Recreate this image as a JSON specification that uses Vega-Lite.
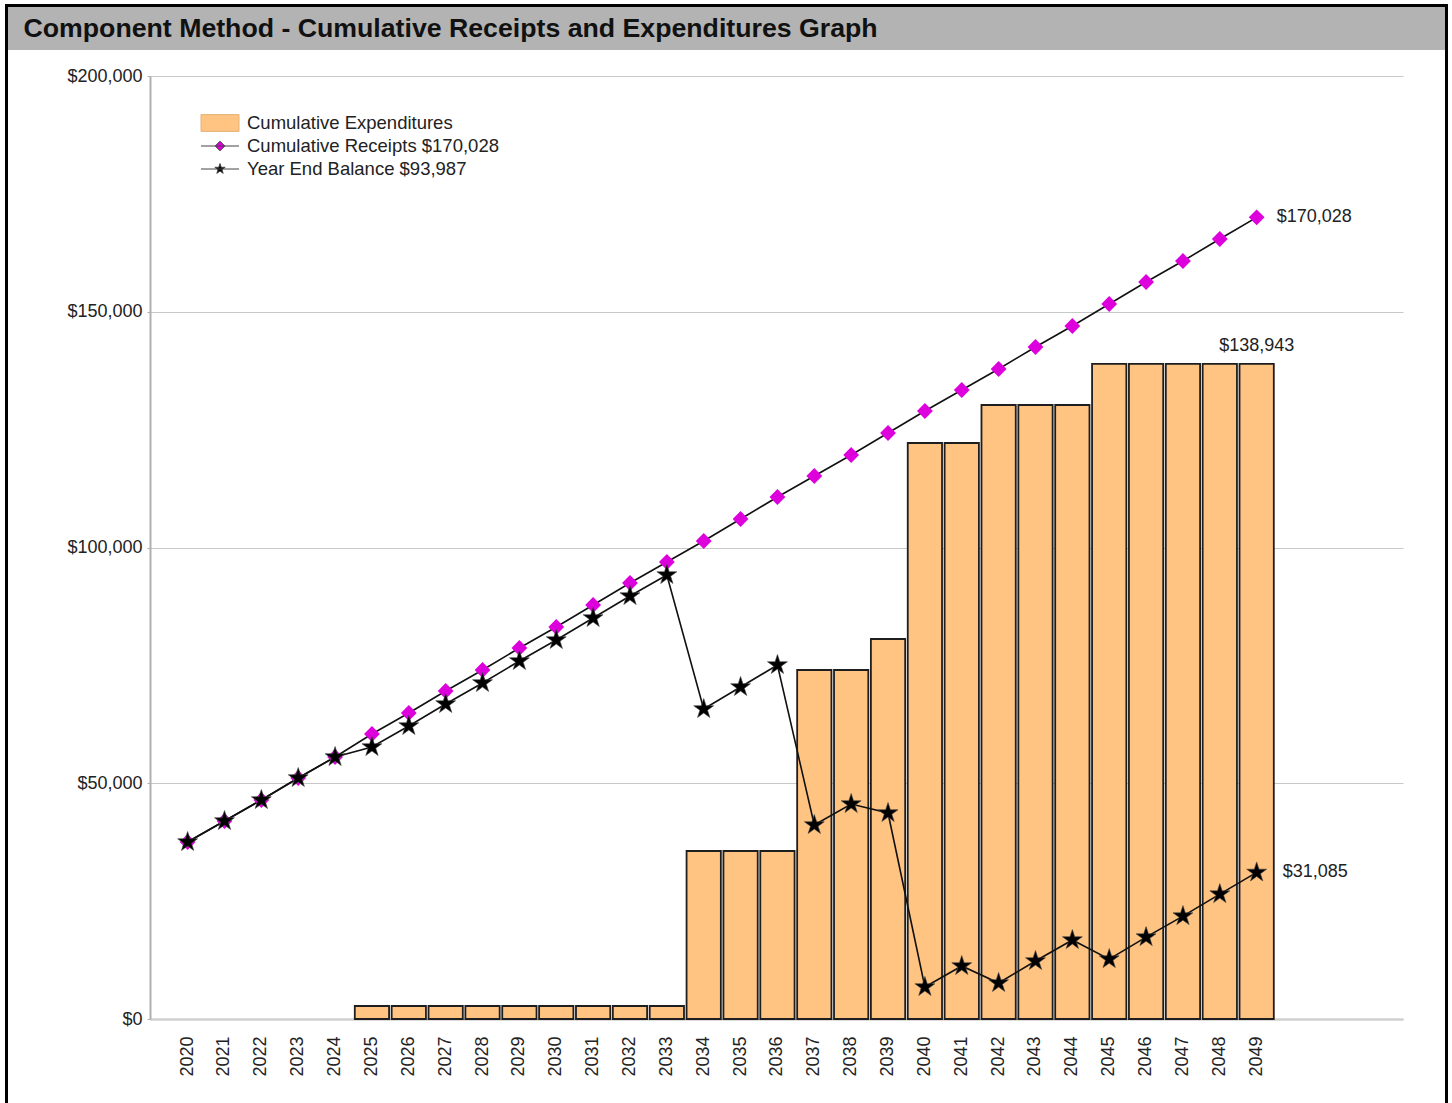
{
  "$schema": "https://vega.github.io/schema/vega-lite/v6.json",
  "padding": {"left": 5, "top": 4, "right": 0, "bottom": 0},
  "background": "white",
  "datasets": {
    "d": [
      {"year": 2020, "series": "Cumulative Receipts $170,028", "value": 37540},
      {"year": 2021, "series": "Cumulative Receipts $170,028", "value": 41994},
      {"year": 2022, "series": "Cumulative Receipts $170,028", "value": 46448},
      {"year": 2023, "series": "Cumulative Receipts $170,028", "value": 51114},
      {"year": 2024, "series": "Cumulative Receipts $170,028", "value": 55568},
      {"year": 2025, "series": "Cumulative Receipts $170,028", "value": 60446},
      {"year": 2026, "series": "Cumulative Receipts $170,028", "value": 64900},
      {"year": 2027, "series": "Cumulative Receipts $170,028", "value": 69566},
      {"year": 2028, "series": "Cumulative Receipts $170,028", "value": 74020},
      {"year": 2029, "series": "Cumulative Receipts $170,028", "value": 78686},
      {"year": 2030, "series": "Cumulative Receipts $170,028", "value": 83140},
      {"year": 2031, "series": "Cumulative Receipts $170,028", "value": 87805},
      {"year": 2032, "series": "Cumulative Receipts $170,028", "value": 92471},
      {"year": 2033, "series": "Cumulative Receipts $170,028", "value": 96925},
      {"year": 2034, "series": "Cumulative Receipts $170,028", "value": 101379},
      {"year": 2035, "series": "Cumulative Receipts $170,028", "value": 106045},
      {"year": 2036, "series": "Cumulative Receipts $170,028", "value": 110711},
      {"year": 2037, "series": "Cumulative Receipts $170,028", "value": 115165},
      {"year": 2038, "series": "Cumulative Receipts $170,028", "value": 119619},
      {"year": 2039, "series": "Cumulative Receipts $170,028", "value": 124285},
      {"year": 2040, "series": "Cumulative Receipts $170,028", "value": 128951},
      {"year": 2041, "series": "Cumulative Receipts $170,028", "value": 133405},
      {"year": 2042, "series": "Cumulative Receipts $170,028", "value": 137859},
      {"year": 2043, "series": "Cumulative Receipts $170,028", "value": 142524},
      {"year": 2044, "series": "Cumulative Receipts $170,028", "value": 146978},
      {"year": 2045, "series": "Cumulative Receipts $170,028", "value": 151644},
      {"year": 2046, "series": "Cumulative Receipts $170,028", "value": 156310},
      {"year": 2047, "series": "Cumulative Receipts $170,028", "value": 160764},
      {"year": 2048, "series": "Cumulative Receipts $170,028", "value": 165430},
      {"year": 2049, "series": "Cumulative Receipts $170,028", "value": 170028},
      {"year": 2025, "series": "Cumulative Expenditures", "value": 2757},
      {"year": 2026, "series": "Cumulative Expenditures", "value": 2757},
      {"year": 2027, "series": "Cumulative Expenditures", "value": 2757},
      {"year": 2028, "series": "Cumulative Expenditures", "value": 2757},
      {"year": 2029, "series": "Cumulative Expenditures", "value": 2757},
      {"year": 2030, "series": "Cumulative Expenditures", "value": 2757},
      {"year": 2031, "series": "Cumulative Expenditures", "value": 2757},
      {"year": 2032, "series": "Cumulative Expenditures", "value": 2757},
      {"year": 2033, "series": "Cumulative Expenditures", "value": 2757},
      {"year": 2034, "series": "Cumulative Expenditures", "value": 35631},
      {"year": 2035, "series": "Cumulative Expenditures", "value": 35631},
      {"year": 2036, "series": "Cumulative Expenditures", "value": 35631},
      {"year": 2037, "series": "Cumulative Expenditures", "value": 74020},
      {"year": 2038, "series": "Cumulative Expenditures", "value": 74020},
      {"year": 2039, "series": "Cumulative Expenditures", "value": 80594},
      {"year": 2040, "series": "Cumulative Expenditures", "value": 122164},
      {"year": 2041, "series": "Cumulative Expenditures", "value": 122164},
      {"year": 2042, "series": "Cumulative Expenditures", "value": 130223},
      {"year": 2043, "series": "Cumulative Expenditures", "value": 130223},
      {"year": 2044, "series": "Cumulative Expenditures", "value": 130223},
      {"year": 2045, "series": "Cumulative Expenditures", "value": 138943},
      {"year": 2046, "series": "Cumulative Expenditures", "value": 138943},
      {"year": 2047, "series": "Cumulative Expenditures", "value": 138943},
      {"year": 2048, "series": "Cumulative Expenditures", "value": 138943},
      {"year": 2049, "series": "Cumulative Expenditures", "value": 138943},
      {"year": 2020, "series": "Year End Balance $93,987", "value": 37540},
      {"year": 2021, "series": "Year End Balance $93,987", "value": 41994},
      {"year": 2022, "series": "Year End Balance $93,987", "value": 46448},
      {"year": 2023, "series": "Year End Balance $93,987", "value": 51114},
      {"year": 2024, "series": "Year End Balance $93,987", "value": 55568},
      {"year": 2025, "series": "Year End Balance $93,987", "value": 57689},
      {"year": 2026, "series": "Year End Balance $93,987", "value": 62143},
      {"year": 2027, "series": "Year End Balance $93,987", "value": 66809},
      {"year": 2028, "series": "Year End Balance $93,987", "value": 71263},
      {"year": 2029, "series": "Year End Balance $93,987", "value": 75929},
      {"year": 2030, "series": "Year End Balance $93,987", "value": 80383},
      {"year": 2031, "series": "Year End Balance $93,987", "value": 85048},
      {"year": 2032, "series": "Year End Balance $93,987", "value": 89714},
      {"year": 2033, "series": "Year End Balance $93,987", "value": 94168},
      {"year": 2034, "series": "Year End Balance $93,987", "value": 65748},
      {"year": 2035, "series": "Year End Balance $93,987", "value": 70414},
      {"year": 2036, "series": "Year End Balance $93,987", "value": 75080},
      {"year": 2037, "series": "Year End Balance $93,987", "value": 41145},
      {"year": 2038, "series": "Year End Balance $93,987", "value": 45599},
      {"year": 2039, "series": "Year End Balance $93,987", "value": 43691},
      {"year": 2040, "series": "Year End Balance $93,987", "value": 6787},
      {"year": 2041, "series": "Year End Balance $93,987", "value": 11241},
      {"year": 2042, "series": "Year End Balance $93,987", "value": 7636},
      {"year": 2043, "series": "Year End Balance $93,987", "value": 12301},
      {"year": 2044, "series": "Year End Balance $93,987", "value": 16755},
      {"year": 2045, "series": "Year End Balance $93,987", "value": 12701},
      {"year": 2046, "series": "Year End Balance $93,987", "value": 17367},
      {"year": 2047, "series": "Year End Balance $93,987", "value": 21821},
      {"year": 2048, "series": "Year End Balance $93,987", "value": 26487},
      {"year": 2049, "series": "Year End Balance $93,987", "value": 31085}
    ]
  },
  "spacing": 0,
  "resolve": {"scale": {"fill": "independent", "stroke": "independent", "shape": "independent"}, "legend": {"fill": "independent", "stroke": "independent", "shape": "independent"}},
  "hconcat": [
    {
      "width": 3, "height": 1100,
      "data": {"values": [{}]},
      "mark": {"type": "point", "opacity": 0, "size": 0, "strokeWidth": 0},
      "encoding": {},
      "view": {"fill": "#000000", "stroke": null}
    },
    {
      "spacing": 0,
      "resolve": {"scale": {"fill": "independent", "stroke": "independent", "shape": "independent"}, "legend": {"fill": "independent", "stroke": "independent", "shape": "independent"}},
      "vconcat": [
        {
          "width": 1437, "height": 3,
          "data": {"values": [{}]},
          "mark": {"type": "point", "opacity": 0, "size": 0, "strokeWidth": 0},
          "encoding": {},
          "view": {"fill": "#000000", "stroke": null}
        },
        {
          "spacing": 17,
          "resolve": {"scale": {"fill": "independent", "stroke": "independent", "shape": "independent"}, "legend": {"fill": "independent", "stroke": "independent", "shape": "independent"}},
          "vconcat": [
            {
              "width": 1437, "height": 43,
              "data": {"values": [{"a": 0}]},
              "mark": {"type": "point", "opacity": 0, "size": 0, "strokeWidth": 0},
              "encoding": {
                "x": {
                  "field": "a", "type": "quantitative",
                  "axis": {
                    "orient": "top", "domain": false, "ticks": false, "labels": false, "grid": false,
                    "minExtent": 0, "maxExtent": 0, "offset": 0,
                    "title": "Component Method - Cumulative Receipts and Expenditures Graph",
                    "titleX": 15, "titleY": 29, "titleAlign": "left", "titleAnchor": "start", "titleBaseline": "alphabetic",
                    "titleFont": "Liberation Sans", "titleFontSize": 26.7, "titleFontWeight": "bold", "titleColor": "#111111"
                  }
                }
              },
              "view": {"fill": "#b3b3b3", "stroke": null}
            },
            {
              "spacing": 0,
              "resolve": {"scale": {"fill": "independent", "stroke": "independent", "shape": "independent"}, "legend": {"fill": "independent", "stroke": "independent", "shape": "independent"}},
              "hconcat": [
                {
                  "width": 1, "height": 20,
                  "data": {"values": [{}]},
                  "mark": {"type": "point", "opacity": 0, "size": 0, "strokeWidth": 0},
                  "encoding": {},
                  "view": {"stroke": null}
                },
                {
                  "width": 1253, "height": 943,
                  "data": {"name": "d"},
                  "view": {"stroke": null},
                  "encoding": {
                    "x": {
                      "field": "year", "type": "ordinal",
                      "scale": {
                        "type": "band",
                        "domain": [2020, 2021, 2022, 2023, 2024, 2025, 2026, 2027, 2028, 2029, 2030, 2031, 2032, 2033, 2034, 2035, 2036, 2037, 2038, 2039, 2040, 2041, 2042, 2043, 2044, 2045, 2046, 2047, 2048, 2049, 2050, 2051, 2052],
                        "paddingInner": 0.07, "paddingOuter": 0.53, "align": 0.524
                      },
                      "axis": {
                        "title": null, "values": [2020, 2021, 2022, 2023, 2024, 2025, 2026, 2027, 2028, 2029, 2030, 2031, 2032, 2033, 2034, 2035, 2036, 2037, 2038, 2039, 2040, 2041, 2042, 2043, 2044, 2045, 2046, 2047, 2048, 2049],
                        "labelAngle": 270, "labelAlign": "right", "labelBaseline": "middle",
                        "ticks": false, "labelPadding": 17, "grid": false,
                        "domainColor": "#d0d0d0", "domainWidth": 2.5,
                        "labelFont": "Liberation Sans", "labelFontSize": 18, "labelColor": "#222222"
                      }
                    },
                    "y": {
                      "field": "value", "type": "quantitative",
                      "scale": {"domain": [0, 200000], "nice": false, "zero": true},
                      "axis": {
                        "title": null, "values": [0, 50000, 100000, 150000, 200000], "format": "$,.0f",
                        "grid": true, "gridColor": "#c8c8c8", "gridWidth": 1,
                        "domainColor": "#b0b0b0", "domainWidth": 2,
                        "tickColor": "#b0b0b0", "tickSize": 3, "labelPadding": 5, "minExtent": 141,
                        "labelFont": "Liberation Sans", "labelFontSize": 18, "labelColor": "#222222"
                      }
                    }
                  },
                  "layer": [
                    {
                      "transform": [{"filter": {"field": "series", "equal": "Cumulative Expenditures"}}],
                      "mark": {"type": "bar", "fill": "#ffc382", "stroke": "#1e1e1e", "strokeWidth": 1.8, "opacity": 1}
                    },
                    {
                      "transform": [{"filter": {"field": "series", "oneOf": ["Cumulative Receipts $170,028", "Year End Balance $93,987"]}}],
                      "mark": {"type": "line", "color": "#111111", "strokeWidth": 1.6, "opacity": 1},
                      "encoding": {"detail": {"field": "series"}}
                    },
                    {
                      "transform": [{"filter": {"field": "series", "equal": "Cumulative Receipts $170,028"}}],
                      "mark": {"type": "point", "shape": "diamond", "size": 250, "filled": true, "fill": "#dd00dd", "opacity": 1, "strokeWidth": 0}
                    },
                    {
                      "transform": [{"filter": {"field": "series", "equal": "Year End Balance $93,987"}}],
                      "mark": {"type": "point", "shape": "M0,-1L0.225,-0.309L0.951,-0.309L0.363,0.118L0.588,0.809L0,0.382L-0.588,0.809L-0.363,0.118L-0.951,-0.309L-0.225,-0.309Z", "size": 441, "filled": true, "fill": "#000000", "opacity": 1, "stroke": "#444444", "strokeWidth": 0.6}
                    },
                    {
                      "transform": [{"filter": {"field": "year", "equal": 2049}}],
                      "mark": {"type": "point", "filled": true, "opacity": 0, "size": 1600, "strokeWidth": 1},
                      "encoding": {
                        "fill": {
                          "field": "series", "type": "nominal",
                          "scale": {
                            "domain": ["Cumulative Expenditures", "Cumulative Receipts $170,028", "Year End Balance $93,987"],
                            "range": ["#ffc382", "#dd00dd", "#000000"]
                          },
                          "legend": {
                            "title": null, "orient": "none", "legendX": 49.5, "legendY": 35.5,
                            "symbolSize": 1600, "clipHeight": 23, "rowPadding": 0, "padding": 0,
                            "labelFont": "Liberation Sans", "labelFontSize": 18.5, "labelColor": "#222222",
                            "labelOffset": 6.5, "labelLimit": 500, "symbolStrokeWidth": 1, "symbolOpacity": 1
                          }
                        },
                        "stroke": {
                          "field": "series", "type": "nominal",
                          "scale": {
                            "domain": ["Cumulative Expenditures", "Cumulative Receipts $170,028", "Year End Balance $93,987"],
                            "range": ["#e3b27a", "#444444", "#444444"]
                          },
                          "legend": {
                            "title": null, "orient": "none", "legendX": 49.5, "legendY": 35.5,
                            "symbolSize": 1600, "clipHeight": 23, "rowPadding": 0, "padding": 0,
                            "labelFont": "Liberation Sans", "labelFontSize": 18.5, "labelColor": "#222222",
                            "labelOffset": 6.5, "labelLimit": 500, "symbolStrokeWidth": 1, "symbolOpacity": 1
                          }
                        },
                        "shape": {
                          "field": "series", "type": "nominal",
                          "scale": {
                            "domain": ["Cumulative Expenditures", "Cumulative Receipts $170,028", "Year End Balance $93,987"],
                            "range": [
                              "M-0.95,-0.42H0.95V0.42H-0.95Z",
                              "M-0.95,0H0.95M0,-0.24L0.24,0L0,0.24L-0.24,0Z",
                              "M-0.95,0H0.95M0,-0.27L0.061,-0.083L0.257,-0.083L0.098,0.032L0.159,0.218L0,0.103L-0.159,0.218L-0.098,0.032L-0.257,-0.083L-0.061,-0.083Z"
                            ]
                          },
                          "legend": {
                            "title": null, "orient": "none", "legendX": 49.5, "legendY": 35.5,
                            "symbolSize": 1600, "clipHeight": 23, "rowPadding": 0, "padding": 0,
                            "labelFont": "Liberation Sans", "labelFontSize": 18.5, "labelColor": "#222222",
                            "labelOffset": 6.5, "labelLimit": 500, "symbolStrokeWidth": 1, "symbolOpacity": 1
                          }
                        }
                      }
                    },
                    {
                      "transform": [{"filter": {"field": "series", "equal": "Cumulative Receipts $170,028"}}, {"filter": {"field": "year", "equal": 2049}}],
                      "mark": {"type": "text", "align": "left", "baseline": "middle", "dx": 20, "font": "Liberation Sans", "fontSize": 18, "color": "#222222"},
                      "encoding": {"text": {"field": "value", "type": "quantitative", "format": "$,.0f"}}
                    },
                    {
                      "transform": [{"filter": {"field": "series", "equal": "Cumulative Expenditures"}}, {"filter": {"field": "year", "equal": 2049}}],
                      "mark": {"type": "text", "align": "center", "baseline": "middle", "dy": -18, "font": "Liberation Sans", "fontSize": 18, "color": "#222222"},
                      "encoding": {"text": {"field": "value", "type": "quantitative", "format": "$,.0f"}}
                    },
                    {
                      "transform": [{"filter": {"field": "series", "equal": "Year End Balance $93,987"}}, {"filter": {"field": "year", "equal": 2049}}],
                      "mark": {"type": "text", "align": "left", "baseline": "middle", "dx": 26, "font": "Liberation Sans", "fontSize": 18, "color": "#222222"},
                      "encoding": {"text": {"field": "value", "type": "quantitative", "format": "$,.0f"}}
                    }
                  ]
                }
              ]
            }
          ]
        }
      ]
    },
    {
      "width": 3, "height": 1100,
      "data": {"values": [{}]},
      "mark": {"type": "point", "opacity": 0, "size": 0, "strokeWidth": 0},
      "encoding": {},
      "view": {"fill": "#000000", "stroke": null}
    }
  ]
}
